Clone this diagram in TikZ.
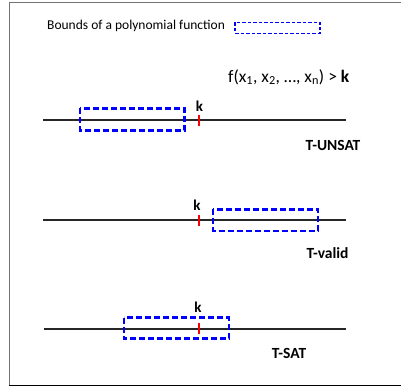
\documentclass[tikz,border=0pt]{standalone}
\usepackage{fontspec}
\setmainfont{Carlito}
\begin{document}
\begin{tikzpicture}[x=1pt,y=-1pt,
  axis/.style={line width=1.8pt,black!85},
  bound/.style={draw=blue,line width=2.4pt,dash pattern=on 6pt off 3pt},
  legbound/.style={draw=blue,line width=1.3pt,dash pattern=on 3.5pt off 2pt},
  tick/.style={red,line width=2pt},
  klab/.style={font=\fontsize{15}{17}\selectfont\bfseries,inner sep=0pt},
  caselab/.style={font=\fontsize{15.5}{18}\selectfont\bfseries,inner sep=0pt},
  frame/.style={draw=black!55,line width=1pt}]
\useasboundingbox (0,0) rectangle (401,387);
\draw[frame] (402,2.5) -- (9,2.5) -- (9,385);
\draw[black,line width=1pt] (9,385) -- (402,385);
% legend
\node[anchor=west,inner sep=0pt,font=\fontsize{13.5}{15}\selectfont] (leg) at (47,26) {Bounds of a polynomial function};
\draw[legbound] (235,22.5) rectangle (320,33.5);
% formula
\node[anchor=west,inner sep=0pt,font=\fontsize{17.5}{20}\selectfont] (f) at (228,77) {f(x\textsubscript{1}, x\textsubscript{2}, \dots, x\textsubscript{n}) > \textbf{k}};
% T-UNSAT
\draw[axis] (43,120) -- (346,120);
\draw[bound] (80,108.5) rectangle (184.5,130.5);
\draw[tick] (198.5,115) -- (198.5,126);
\node[klab] (k1) at (199.5,106) {k};
\node[caselab] (c1) at (333,145) {T-UNSAT};
% T-valid
\draw[axis] (43,220) -- (346,220);
\draw[bound] (213,209.5) rectangle (318,231);
\draw[tick] (198.5,215) -- (198.5,226);
\node[klab] (k2) at (197,205) {k};
\node[caselab] (c2) at (327.5,253) {T-valid};
% T-SAT
\draw[axis] (44,329) -- (346,329);
\draw[bound] (124,317.5) rectangle (229,338.5);
\draw[tick] (198.5,323) -- (198.5,334);
\node[klab] (k3) at (198,307) {k};
\node[caselab] (c3) at (289,353) {T-SAT};
\end{tikzpicture}
\end{document}
